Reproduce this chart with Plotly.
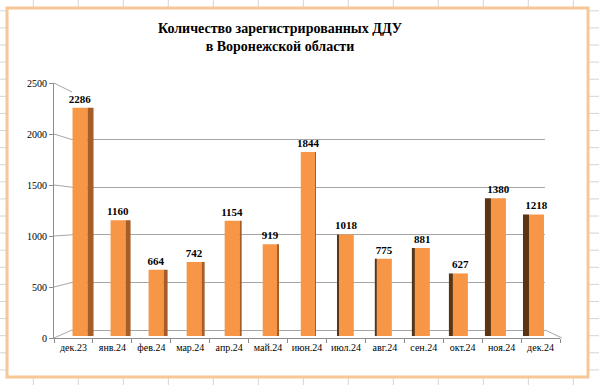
import plotly.graph_objects as go

# ---- data ----
months = ["дек.23", "янв.24", "фев.24", "мар.24", "апр.24", "май.24", "июн.24",
          "июл.24", "авг.24", "сен.24", "окт.24", "ноя.24", "дек.24"]
values = [2286, 1160, 664, 742, 1154, 919, 1844, 1018, 775, 881, 627, 1380, 1218]
y_ticks = [0, 500, 1000, 1500, 2000, 2500]
title_text = "Количество зарегистрированных ДДУ<br>в Воронежской области"

W, H = 599, 385
def X(px):
    return px / W
def Y(py):
    return 1 - py / H

YMAX = 2500
# pixel geometry
back_x = (72, 545); back_y = (330, 92)      # back wall (value 0 -> 330, 2500 -> 92)
bar_x = (61, 555.5); bar_y = (336, 86.5)    # bars
front_x = (54, 560); front_y = (338, 83)    # front axes

cat_px = (bar_x[1] - bar_x[0]) / len(months)
front_w = 15 / cat_px
side_px = [6, 5, 4, 3, 2, 1, 0, 1, 2, 3, 4, 6, 6]
side_w = [max(s, 0.01) / cat_px for s in side_px]
side_off = []
side_col = []
for i, w in enumerate(side_w):
    if i <= 6:
        side_off.append(front_w / 2)
        side_col.append("#a65d27")
    else:
        side_off.append(-front_w / 2 - w)
        side_col.append("#5c3411")

fig = go.Figure()

# subplot 1: back wall grid
fig.add_trace(go.Scatter(x=[None], y=[None], xaxis="x", yaxis="y", mode="none",
                         showlegend=False, hoverinfo="skip"))

# subplot 2: bars
fig.add_trace(go.Bar(x=months, y=values, xaxis="x2", yaxis="y2",
                     width=[front_w] * len(months), offset=[-front_w / 2] * len(months),
                     marker=dict(color="#f79646", line=dict(width=0)),
                     text=[str(v) for v in values], textposition="outside",
                     constraintext="none",
                     textfont=dict(family="Liberation Serif", size=11, color="black"),
                     texttemplate="<b>%{text}</b>", cliponaxis=False,
                     showlegend=False, hoverinfo="x+y"))
fig.add_trace(go.Bar(x=months, y=values, xaxis="x2", yaxis="y2",
                     width=side_w, offset=side_off,
                     marker=dict(color=side_col, line=dict(width=0)),
                     showlegend=False, hoverinfo="skip"))

# subplot 3: front axes
fig.add_trace(go.Scatter(x=months, y=[None] * len(months), xaxis="x3", yaxis="y3",
                         mode="none", showlegend=False, hoverinfo="skip"))

axis_font = dict(family="Liberation Serif", size=10, color="black")
grid_col = "#a6a6a6"

fig.update_layout(
    template="none",
    width=W, height=H, autosize=False,
    margin=dict(l=0, r=0, t=0, b=0, pad=0),
    paper_bgcolor="white", plot_bgcolor="rgba(0,0,0,0)",
    barmode="overlay",
    xaxis=dict(domain=[X(back_x[0]), X(back_x[1])], anchor="y", visible=False, range=[0, 1],
               automargin=False),
    yaxis=dict(domain=[Y(back_y[0]), Y(back_y[1])], anchor="x", range=[0, YMAX],
               tickvals=y_ticks, showgrid=True, gridcolor=grid_col, gridwidth=1,
               zeroline=True, zerolinecolor=grid_col, zerolinewidth=1,
               showticklabels=False, ticks="", showline=False, automargin=False),
    xaxis2=dict(domain=[X(bar_x[0]), X(bar_x[1])], anchor="y2", type="category",
                categoryarray=months, range=[-0.5, len(months) - 0.5], visible=False,
                automargin=False),
    yaxis2=dict(domain=[Y(bar_y[0]), Y(bar_y[1])], anchor="x2", range=[0, YMAX], visible=False,
                automargin=False),
    xaxis3=dict(domain=[X(front_x[0]), X(front_x[1])], anchor="y3", type="category",
                categoryarray=months, range=[-0.5, len(months) - 0.5],
                showline=True, linecolor="#8c8c8c", linewidth=1,
                ticks="outside", ticklen=4, tickcolor="#8c8c8c", tickson="boundaries",
                tickangle=0, tickfont=axis_font, showgrid=False, zeroline=False,
                automargin=False),
    yaxis3=dict(domain=[Y(front_y[0]), Y(front_y[1])], anchor="x3", range=[0, YMAX],
                tickvals=y_ticks, showline=True, linecolor="#8c8c8c", linewidth=1,
                ticks="outside", ticklen=4, tickcolor="#8c8c8c",
                tickfont=axis_font, showgrid=False, zeroline=False, automargin=False),
)

shapes = []
# spreadsheet grid around the chart
gx = 33.3
while gx < W:
    shapes.append(dict(type="line", xref="paper", yref="paper", x0=X(gx), x1=X(gx), y0=0, y1=1,
                       line=dict(color="#d4d4d4", width=1), layer="below"))
    gx += 45
gy = 10.8
while gy < H:
    shapes.append(dict(type="line", xref="paper", yref="paper", x0=0, x1=1, y0=Y(gy), y1=Y(gy),
                       line=dict(color="#d4d4d4", width=1), layer="below"))
    gy += 17.1
# chart area
shapes.append(dict(type="rect", xref="paper", yref="paper", x0=X(7), x1=X(588), y0=Y(377), y1=Y(8),
                   fillcolor="white", line=dict(color="#f7c797", width=3), layer="below"))
# perspective connectors front -> back
for v in y_ticks:
    fy = front_y[0] + (front_y[1] - front_y[0]) * v / YMAX
    by = back_y[0] + (back_y[1] - back_y[0]) * v / YMAX
    shapes.append(dict(type="line", xref="paper", yref="paper",
                       x0=X(front_x[0]), y0=Y(fy), x1=X(back_x[0]), y1=Y(by),
                       line=dict(color=grid_col, width=1), layer="below"))
# right floor edge
shapes.append(dict(type="line", xref="paper", yref="paper",
                   x0=X(back_x[1]), y0=Y(back_y[0]), x1=X(front_x[1] + 2), y1=Y(front_y[0]),
                   line=dict(color=grid_col, width=1), layer="below"))
fig.update_layout(shapes=shapes)

fig.add_annotation(text="<b>" + title_text.replace("<br>", "</b><br><b>") + "</b>",
                   xref="paper", yref="paper", x=X(280), y=Y(19),
                   xanchor="center", yanchor="top", showarrow=False,
                   font=dict(family="Liberation Serif", size=14, color="black"),
                   align="center")

fig.write_html("out.html", config={"displayModeBar": False},
               post_script="document.body.style.margin='0';document.body.style.padding='0';")
